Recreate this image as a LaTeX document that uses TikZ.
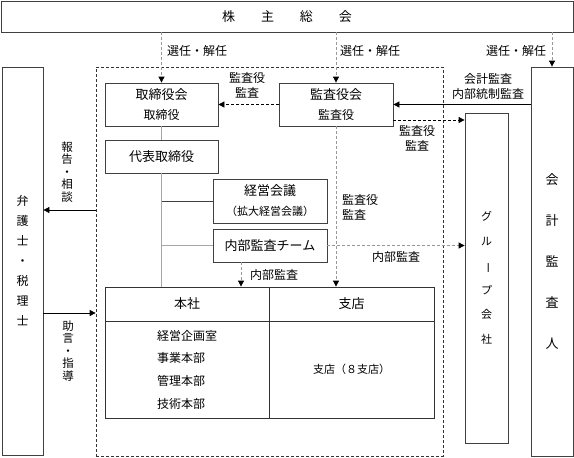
\documentclass[tikz,border=0pt]{standalone}
\usepackage{fontspec}
\setmainfont{Noto Sans CJK JP}
\usepackage{graphicx}
\usetikzlibrary{arrows.meta, positioning, calc}

\begin{document}
\begin{tikzpicture}[x=1pt, y=-1pt, >={Triangle[width=6pt, length=6pt]}]
\tikzset{
    orgbox/.style={rectangle, draw=black!75, line width=0.8pt, inner sep=0pt, align=center, font=\fontsize{13pt}{20pt}\selectfont},
    cell/.style={rectangle, draw=black!80, line width=0.8pt, inner sep=0pt, align=center, font=\fontsize{13pt}{16pt}\selectfont},
    tallbox/.style={rectangle, draw=black!75, line width=0.8pt, inner sep=0pt, align=center},
    line/.style={->, line width=0.8pt},
    dline/.style={->, line width=0.8pt, dash pattern=on 3pt off 2pt},
    gline/.style={-{Triangle[width=6pt, length=6pt, color=black]}, gray!80, line width=0.8pt, dash pattern=on 3pt off 2pt},
    treeline/.style={gray!70, line width=1.2pt},
    lbl/.style={inner sep=0pt, align=center, font=\fontsize{12pt}{15pt}\selectfont},
    vlbl/.style={inner sep=0pt, align=center, font=\fontsize{11.5pt}{12.5pt}\selectfont}
}
\useasboundingbox (0,0) rectangle (574,458);

% --- Company (dashed frame) ---
\node (corp) at (269.5,261.5) [draw=black!80, dash pattern=on 3pt off 2pt, line width=0.7pt, minimum width=347pt, minimum height=389pt] {};

% --- Boxes ---
\node (gm) at (287,16.5) [orgbox, minimum width=572pt, minimum height=31pt] {株　　主　　総　　会};
\node (bod) at (161.5,104.5) [orgbox, minimum width=113pt, minimum height=43pt] {取締役会\\{\fontsize{12pt}{12pt}\selectfont 取締役}};
\node (asb) at (336,104.5) [orgbox, minimum width=114pt, minimum height=43pt] {監査役会\\{\fontsize{12pt}{12pt}\selectfont 監査役}};
\node (ceo) at (161.5,156.5) [orgbox, minimum width=113pt, minimum height=33pt] {代表取締役};
\node (mgm) at (270,201) [orgbox, minimum width=114pt, minimum height=44pt] {経営会議\\{\fontsize{11pt}{11pt}\selectfont （拡大経営会議）}};
\node (iat) at (270,245.5) [orgbox, minimum width=114pt, minimum height=33pt] {内部監査チーム};

% --- Head office / branches ---
\node (hqh) at (187,304) [cell, minimum width=164pt, minimum height=34pt] {本社};
\node (brh) at (351.5,304) [cell, minimum width=165pt, minimum height=34pt] {支店};
\node (hqb) at (187,369.5) [cell, minimum width=164pt, minimum height=97pt, align=left, font=\fontsize{12pt}{22.7pt}\selectfont] {経営企画室\\事業本部\\管理本部\\技術本部};
\node (brb) at (351.5,369.5) [cell, minimum width=165pt, minimum height=97pt, font=\fontsize{11pt}{14pt}\selectfont] {支店（８支店）};

% --- Side boxes ---
\node (law) at (22.5,261) [tallbox, minimum width=41pt, minimum height=388pt, font=\fontsize{12pt}{20pt}\selectfont] {弁\\護\\士\\・\\税\\理\\士};
\node (grp) at (486.5,278) [tallbox, minimum width=43pt, minimum height=330pt, font=\fontsize{11pt}{24.5pt}\selectfont] {グ\\ル\\\rotatebox[origin=c]{-90}{ー}\\プ\\会\\社};
\node (aud) at (552,261.5) [tallbox, minimum width=42pt, minimum height=389pt, font=\fontsize{13pt}{41pt}\selectfont] {会\\計\\監\\査\\人};

% --- Election ---
\draw[gline] (bod.north |- gm.south) -- (bod.north);
\draw[gline] (asb.north |- gm.south) -- (asb.north);
\draw[gline] (aud.north |- gm.south) -- (aud.north);
\node (sel1) at (197,51) [lbl] {選任・解任};
\node (sel2) at (370,51) [lbl] {選任・解任};
\node (sel3) at (516,51) [lbl] {選任・解任};

% --- Audits ---
\draw[dline] (asb.west) -- (bod.east);
\node (aud1) at (247,85) [lbl] {監査役\\監査};
\coordinate (asbout) at (393,120);
\draw[dline] (asbout) -- (asbout -| grp.west);
\node (aud2) at (417,138) [lbl] {監査役\\監査};
\draw[line] (aud.west |- asb.east) -- (asb.east);
\node (acc) at (488,86) [lbl] {会計監査\\内部統制監査};
\draw[gline] (asb.south) -- (asb.south |- brh.north);
\node (aud3) at (342,207) [lbl, anchor=west, align=left] {監査役\\監査};
\draw[gline] (iat.east) -- (iat.east -| grp.west);
\node (ia1) at (396,257) [lbl] {内部監査};
\coordinate (iatout) at (241,262);
\draw[gline] (iatout) -- (iatout |- hqh.north);
\node (ia2) at (250,275) [lbl, anchor=west] {内部監査};

% --- Line of command ---
\draw[treeline] (bod.south) -- (ceo.north);
\draw[treeline] (ceo.south) -- (ceo.south |- hqh.north);
\draw[black!75, line width=0.8pt] (ceo.south |- mgm.west) -- (mgm.west);
\draw[treeline] (ceo.south |- iat.west) -- (iat.west);

% --- Advisors ---
\coordinate (rep) at (96,210);
\draw[line] (rep) -- (rep -| law.east);
\node (repl) at (67,172) [vlbl] {報\\告\\・\\相\\談};
\coordinate (adv) at (43,313);
\draw[line] (adv) -- (adv -| corp.west);
\node (advl) at (68,351) [vlbl] {助\\言\\・\\指\\導};

\end{tikzpicture}
\end{document}
